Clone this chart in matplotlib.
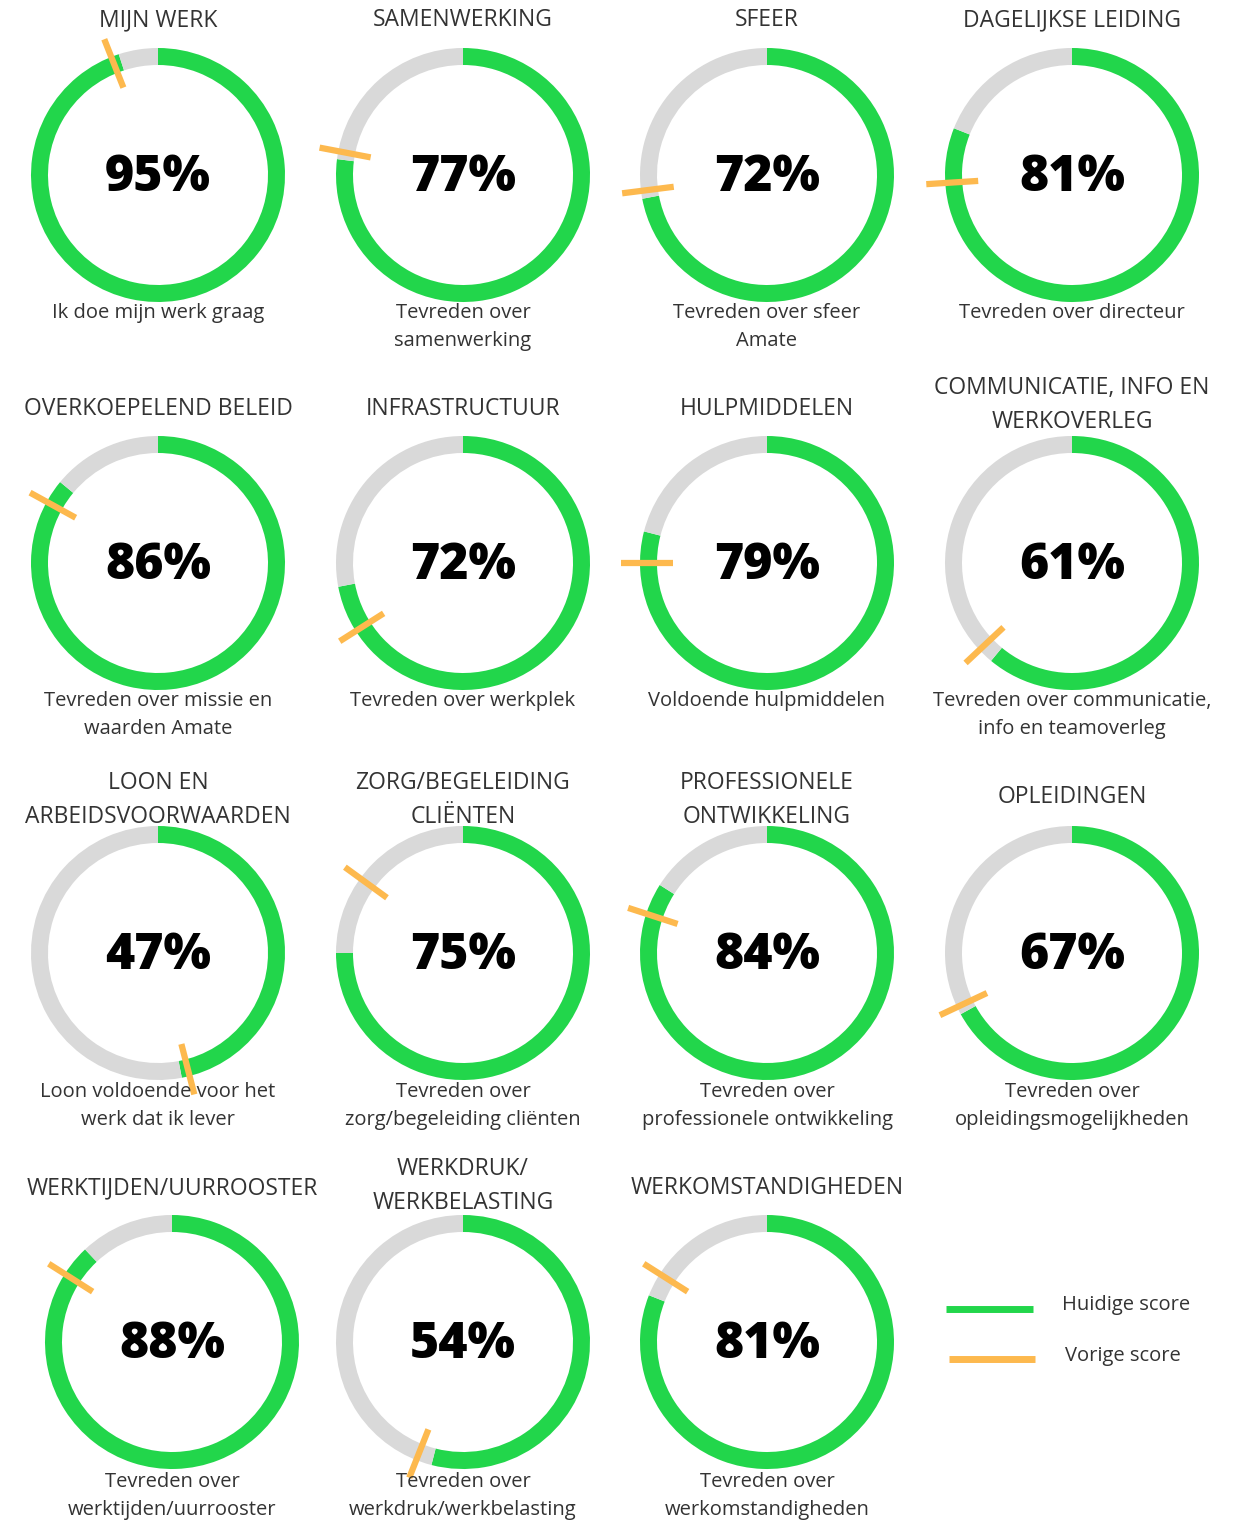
import matplotlib
matplotlib.use("Agg")
import matplotlib.pyplot as plt
import numpy as np

W, H = 1247, 1520

titles = ["MIJN WERK", "SAMENWERKING", "SFEER", "DAGELIJKSE LEIDING",
          "OVERKOEPELEND BELEID", "INFRASTRUCTUUR", "HULPMIDDELEN", "COMMUNICATIE, INFO EN\nWERKOVERLEG",
          "LOON EN\nARBEIDSVOORWAARDEN", "ZORG/BEGELEIDING\nCLIËNTEN", "PROFESSIONELE\nONTWIKKELING", "OPLEIDINGEN",
          "WERKTIJDEN/UURROOSTER", "WERKDRUK/\nWERKBELASTING", "WERKOMSTANDIGHEDEN"]
subtitles = ["Ik doe mijn werk graag", "Tevreden over\nsamenwerking", "Tevreden over sfeer\nAmate", "Tevreden over directeur",
             "Tevreden over missie en\nwaarden Amate", "Tevreden over werkplek", "Voldoende hulpmiddelen",
             "Tevreden over communicatie,\ninfo en teamoverleg",
             "Loon voldoende voor het\nwerk dat ik lever", "Tevreden over\nzorg/begeleiding cliënten",
             "Tevreden over\nprofessionele ontwikkeling", "Tevreden over\nopleidingsmogelijkheden",
             "Tevreden over\nwerktijden/uurrooster", "Tevreden over\nwerkdruk/werkbelasting", "Tevreden over\nwerkomstandigheden"]
current = [95, 77, 72, 81, 86, 72, 79, 61, 47, 75, 84, 67, 88, 54, 81]
previous = [94, 78, 73, 74, 83, 66, 75, 63, 46, 85, 80, 68, 84, 56, 84]
legend_labels = ["Huidige score", "Vorige score"]

GREEN = "#22D64B"
GREY = "#D9D9D9"
ORANGE = "#FDB94E"
TXT = "#333333"
FONT = "Open Sans"

col_x = [158, 463, 767, 1072]
row_y = [175, 563, 953, 1342]
title_y = [20, 409, 797, 1188]
title2_y = [20, 405, 800, 1186]
sub_y = [314, 702, 1093, 1483]

fig = plt.figure(figsize=(W / 100, H / 100), dpi=100)
fig.patch.set_facecolor("white")


def fx(x):
    return x / W


def fy(y):
    return 1 - y / H


R_OUT = 127
RING_W = 17
HALF = 150

for i, (t, s, c, p) in enumerate(zip(titles, subtitles, current, previous)):
    r, k = divmod(i, 4)
    cx = col_x[k]
    cy = row_y[r]
    if r == 3 and k == 0:
        cx = 172
    ax = fig.add_axes([fx(cx - HALF), fy(cy + HALF), 2 * HALF / W, 2 * HALF / H])
    ax.pie([c, 100 - c], startangle=90, counterclock=False, colors=[GREEN, GREY],
           radius=R_OUT, wedgeprops=dict(width=RING_W, linewidth=0))
    th = p / 100 * 2 * np.pi
    r1, r2 = 94, 146
    ax.plot([r1 * np.sin(th), r2 * np.sin(th)], [r1 * np.cos(th), r2 * np.cos(th)],
            color=ORANGE, lw=4.5, solid_capstyle="butt", zorder=5)
    ax.set_xlim(-HALF, HALF)
    ax.set_ylim(-HALF, HALF)
    ax.set_aspect("equal")
    ax.axis("off")
    ax.text(0, -3, f"{c}%", ha="center", va="center", fontsize=36, fontweight="heavy",
            color="black", family=FONT)
    # title
    ty = title2_y[r] if "\n" in t else title_y[r]
    fig.text(fx(cx), fy(ty), t, ha="center", va="center", fontsize=16.5, color=TXT,
             family=FONT, linespacing=1.55)
    fig.text(fx(cx), fy(sub_y[r] - 11), s, ha="center", va="top", fontsize=14.5,
             color=TXT, family=FONT, linespacing=1.55)

# legend
lax = fig.add_axes([0, 0, 1, 1], zorder=-1)
lax.set_xlim(0, W)
lax.set_ylim(H, 0)
lax.axis("off")
lax.plot([946, 1033], [1309, 1309], color=GREEN, lw=5, solid_capstyle="butt")
lax.plot([949, 1035], [1359, 1359], color=ORANGE, lw=5, solid_capstyle="butt")
lax.text(1062, 1305, legend_labels[0], va="center", ha="left", fontsize=14.5, color=TXT, family=FONT)
lax.text(1065, 1356, legend_labels[1], va="center", ha="left", fontsize=14.5, color=TXT, family=FONT)

fig.savefig("out.png", dpi=100, facecolor="white")
